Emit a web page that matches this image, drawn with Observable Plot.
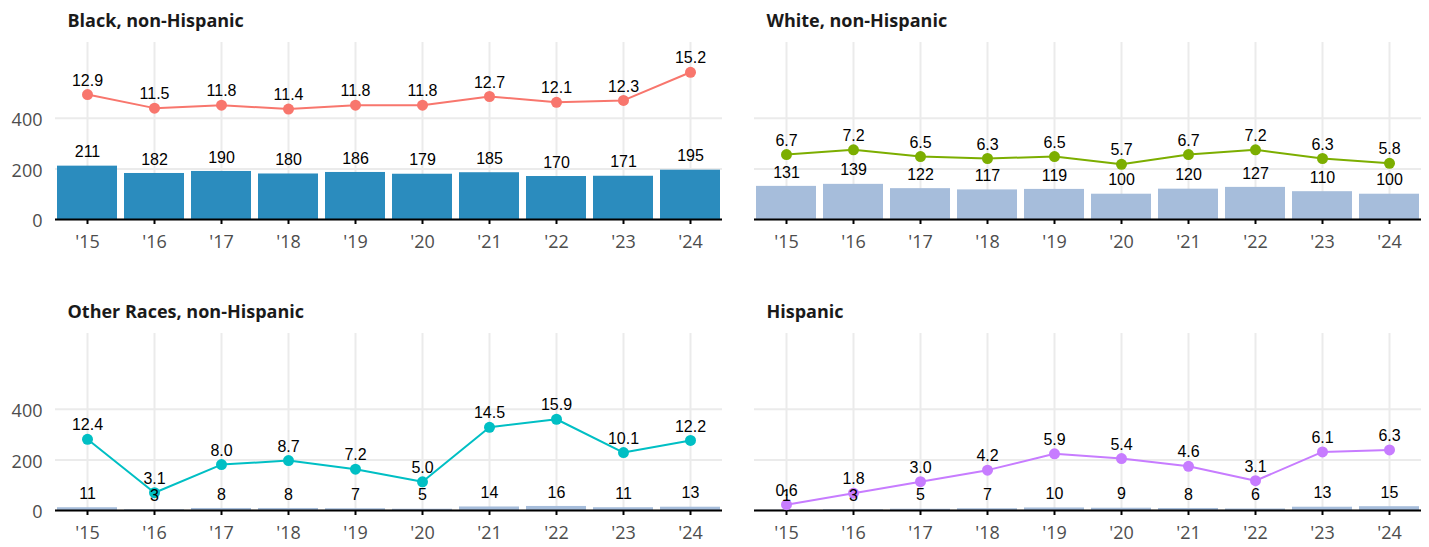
<!DOCTYPE html>
<html>
<head>
<meta charset="utf-8">
<script src="https://cdn.jsdelivr.net/npm/d3@7"></script>
<script src="https://cdn.jsdelivr.net/npm/@observablehq/plot@0.6"></script>
<style>
  html, body { margin: 0; padding: 0; background: #fff; }
  #chart { width: 1429px; height: 547px; }
</style>
</head>
<body>
<div id="chart"></div>
<script>
// ---- data ----
const years = ["'15", "'16", "'17", "'18", "'19", "'20", "'21", "'22", "'23", "'24"];
const panels = ["Black, non-Hispanic", "White, non-Hispanic", "Other Races, non-Hispanic", "Hispanic"];

const blackCounts = [211, 182, 190, 180, 186, 179, 185, 170, 171, 195];
const blackRates  = [12.9, 11.5, 11.8, 11.4, 11.8, 11.8, 12.7, 12.1, 12.3, 15.2];

const whiteCounts = [131, 139, 122, 117, 119, 100, 120, 127, 110, 100];
const whiteRates  = [6.7, 7.2, 6.5, 6.3, 6.5, 5.7, 6.7, 7.2, 6.3, 5.8];

const otherCounts = [11, 3, 8, 8, 7, 5, 14, 16, 11, 13];
const otherRates  = [12.4, 3.1, 8.0, 8.7, 7.2, 5.0, 14.5, 15.9, 10.1, 12.2];

const hispCounts  = [1, 3, 5, 7, 10, 9, 8, 6, 13, 15];
const hispRates   = [0.6, 1.8, 3.0, 4.2, 5.9, 5.4, 4.6, 3.1, 6.1, 6.3];

// secondary-axis scale factor of each panel (rate -> count units)
const rateScale   = [38.3, 38.3, 22.7, 38.0];
const barColors   = ["#2b8cbe", "#a6bddb", "#a6bddb", "#a6bddb"];
const lineColors  = ["#F8766D", "#7CAE00", "#00BFC4", "#C77CFF"];
const yTicks      = [0, 200, 400];

// ---- build table ----
const series = [[blackCounts, blackRates], [whiteCounts, whiteRates], [otherCounts, otherRates], [hispCounts, hispRates]];
const rows = [];
series.forEach(([counts, rates], p) => {
  years.forEach((yr, i) => {
    rows.push({
      panel: panels[p], col: p % 2, row: Math.floor(p / 2),
      year: yr, count: counts[i], rate: rates[i],
      rateY: rates[i] * rateScale[p],
      bar: barColors[p], line: lineColors[p]
    });
  });
});
const titles = panels.map((name, p) => ({name, col: p % 2, row: Math.floor(p / 2)}));

const axisFont = "'Open Sans', 'Noto Sans', sans-serif";
const valueFont = "'Liberation Sans', Arial, sans-serif";

const chart = Plot.plot({
  width: 1429,
  height: 547,
  marginLeft: 55,
  marginRight: 8,
  marginTop: 42,
  marginBottom: 37,
  style: {background: "#fff", overflow: "visible", fontFamily: axisFont},
  fx: {domain: [0, 1], axis: null, paddingInner: 0.0458, paddingOuter: 0},
  fy: {domain: [0, 1], axis: null, paddingInner: 0.392, paddingOuter: 0},
  x: {type: "band", domain: years, paddingInner: 0.1, paddingOuter: 0, label: null},
  y: {domain: [0, 700], label: null},
  color: {type: "identity"},
  marks: [
    Plot.gridY(yTicks, {stroke: "#ebebeb", strokeOpacity: 1, strokeWidth: 2, facetAnchor: null}),
    Plot.gridX({stroke: "#ebebeb", strokeOpacity: 1, strokeWidth: 2, facetAnchor: null}),
    Plot.barY(rows, {fx: "col", fy: "row", x: "year", y: "count", fill: "bar"}),
    Plot.ruleY([0], {stroke: "#000", strokeWidth: 2}),
    Plot.axisX({facetAnchor: null, tickSize: 5, tickPadding: 11, stroke: "#000", strokeWidth: 2,
      color: "#4d4d4d", fontSize: 18, label: null}),
    Plot.axisY(yTicks, {tickSize: 0, tickPadding: 13, dy: 2, color: "#4d4d4d", fontSize: 18, label: null}),
    Plot.line(rows, {fx: "col", fy: "row", x: "year", y: "rateY", z: "panel", stroke: "line", strokeWidth: 2}),
    Plot.dot(rows, {fx: "col", fy: "row", x: "year", y: "rateY", fill: "line", r: 5.5}),
    Plot.text(rows, {fx: "col", fy: "row", x: "year", y: "count", text: d => String(d.count),
      dy: -14, fontSize: 16, fontFamily: valueFont, fill: "#000"}),
    Plot.text(rows, {fx: "col", fy: "row", x: "year", y: "rateY", text: d => d.rate.toFixed(1),
      dy: -14, fontSize: 16, fontFamily: valueFont, fill: "#000"}),
    Plot.text(titles, {fx: "col", fy: "row", text: "name", frameAnchor: "top-left", textAnchor: "start",
      dx: 12, dy: -28, fontSize: 18, fontWeight: "bold", fontFamily: axisFont, fill: "#1a1a1a"})
  ]
});
document.getElementById("chart").appendChild(chart);
</script>
</body>
</html>
